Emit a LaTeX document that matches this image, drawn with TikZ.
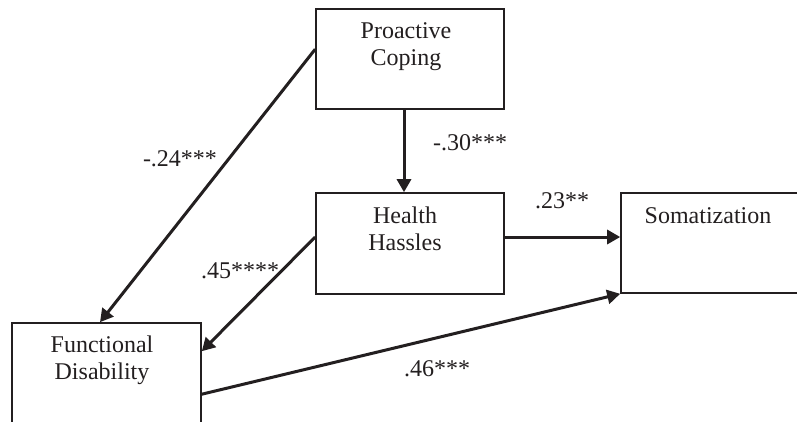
\documentclass[tikz,border=0pt]{standalone}
\usepackage{fontspec}
\setmainfont{Liberation Serif}
\usetikzlibrary{arrows.meta}
\definecolor{ink}{RGB}{35,31,32}
\begin{document}
\begin{tikzpicture}[x=1pt,y=-1pt,
  box/.style={draw=ink, line width=1.6pt, rectangle, inner sep=0pt},
  txt/.style={text=ink, font=\fontsize{24}{27}\selectfont, align=center, inner sep=0pt, anchor=north},
  coef/.style={text=ink, font=\fontsize{24}{27}\selectfont, inner sep=0pt},
  arr/.style={draw=ink, line width=3pt, -{Triangle[length=13pt,width=14pt]}}]
\useasboundingbox (0,0) rectangle (797,421);
\clip (0,0) rectangle (797,421);
\fill[white] (0,0) rectangle (797,421);
% boxes
\node[box, minimum width=188pt, minimum height=100pt] (pc) at (410,59) {};
\node[box, minimum width=188pt, minimum height=101pt] (hh) at (410,243.5) {};
\node[box, minimum width=240pt, minimum height=100pt] (som) at (741,243) {};
\node[box, minimum width=189pt, minimum height=200pt] (fd) at (106.5,423) {};
% box texts
\node[txt] (pct) at (406,22) {Proactive\\Coping};
\node[txt] (hht) at (405,207) {Health\\Hassles};
\node[txt] (somt) at (708,207) {Somatization};
\node[txt] (fdt) at (102,336) {Functional\\Disability};
% connector end points
\coordinate (hhe) at ([yshift=6.5pt]hh.east);
\coordinate (hhw) at ([yshift=6.5pt]hh.west);
\coordinate (pcw) at ([yshift=-41pt]pc.north west);
\coordinate (fdr1) at ([yshift=-29pt]fd.north east);
\coordinate (fdr2) at ([yshift=-72pt]fd.north east);
% connectors
\draw[arr] ([xshift=-6pt]pc.south) -- ([xshift=-6pt]hh.north);
\draw[arr] (hhe) -- (hhe -| som.west);
\draw[arr] (fdr2) -- (som.south west);
\draw[arr] (hhw) -- (fdr1);
\draw[arr] (pcw) -- ([xshift=-6.5pt]fd.north);
% coefficients
\node[coef] (c1) at (470,143) {-.30***};
\node[coef] (c2) at (562,201) {.23**};
\node[coef] (c3) at (180,159) {-.24***};
\node[coef] (c4) at (240,271) {.45****};
\node[coef] (c5) at (437,369) {.46***};
\end{tikzpicture}
\end{document}
